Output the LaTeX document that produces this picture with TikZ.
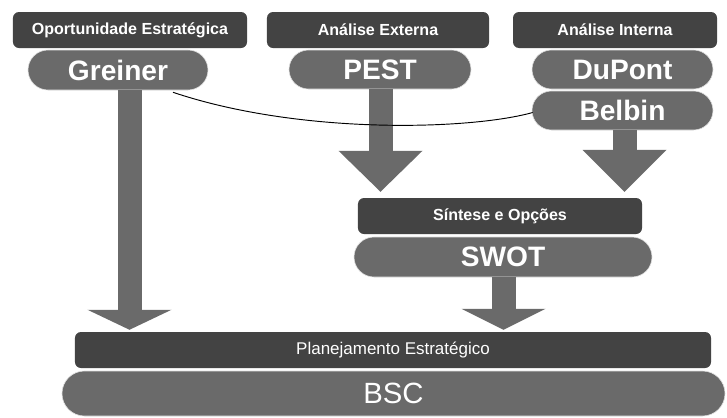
\documentclass[tikz,border=0pt]{standalone}
\usepackage{fontspec}
\setmainfont{Liberation Sans}
\usetikzlibrary{arrows.meta,calc}
\definecolor{hdr}{HTML}{434343}
\definecolor{pil}{HTML}{6A6A6A}
\begin{document}
\begin{tikzpicture}[x=0.03cm,y=-0.03cm,
  hdrbox/.style={fill=hdr, rounded corners=0.18cm, text=white,
    font=\bfseries\fontsize{13.7}{16}\selectfont, minimum height=1.08cm, inner sep=0pt},
  pillbox/.style={fill=pil, draw=white!80!pil, line width=0.5pt, text=white,
    font=\bfseries\fontsize{24}{28}\selectfont, inner sep=0pt},
  blk/.style={draw=pil, line width=0.72cm,
    -{Triangle[length=#1, width=2.52cm, line width=0pt]}},
  link/.style={draw=black, line width=0.8pt}
]
\useasboundingbox[fill=white] (0,0) rectangle (727,417);

% headers
\node[hdrbox, minimum width=7.02cm] (hOp)  at (130,30) {Oportunidade Estratégica};
\node[hdrbox, minimum width=6.66cm] (hExt) at (378,30) {Análise Externa};
\node[hdrbox, minimum width=6.12cm] (hInt) at (615,30) {Análise Interna};
\node[hdrbox, minimum width=8.52cm] (hSin) at (500,216) {Síntese e Opções};
\node[hdrbox, minimum width=19.08cm, font=\fontsize{14.5}{17}\selectfont] (hPlan) at (393,350) {Planejamento Estratégico};

% pills
\node[pillbox, minimum width=5.4cm, minimum height=1.2cm, rounded corners=0.6cm] (greiner) at (118,70) {Greiner};
\node[pillbox, minimum width=5.46cm, minimum height=1.17cm, rounded corners=0.585cm] (pest) at (380,69.5) {PEST};
\node[pillbox, minimum width=5.43cm, minimum height=1.17cm, rounded corners=0.585cm] (dupont) at (622.5,69.5) {DuPont};
\node[pillbox, minimum width=5.43cm, minimum height=1.17cm, rounded corners=0.585cm] (belbin) at (622.5,110.5) {Belbin};
\node[pillbox, minimum width=8.94cm, minimum height=1.2cm, rounded corners=0.6cm] (swot) at (503,257) {SWOT};
\node[pillbox, minimum width=19.89cm, minimum height=1.35cm, rounded corners=0.675cm,
      font=\fontsize{25}{30}\selectfont] (bsc) at (393.5,393.5) {BSC};

% arrow axes
\coordinate (gx) at (129.5,0);
\coordinate (px) at (380.5,0);
\coordinate (bx) at (624.5,0);
\coordinate (sx) at (503.5,0);

% block arrows
\draw[blk=0.6cm]  (greiner.south -| gx) -- ($(hPlan.north -| gx)+(0,-2)$);
\draw[blk=1.23cm] (pest.south -| px)    -- ($(hSin.north -| px)+(0,-6)$);
\draw[blk=1.26cm] (belbin.south -| bx)  -- ($(hSin.north -| bx)+(0,-6)$);
\draw[blk=0.63cm] (swot.south -| sx)    -- ($(hPlan.north -| sx)+(0,-2)$);

% link
\draw[link] ($(greiner.south)+(55,2)$) .. controls (300,135) and (470,130) .. ($(belbin.west)+(1,2)$);
\end{tikzpicture}
\end{document}
